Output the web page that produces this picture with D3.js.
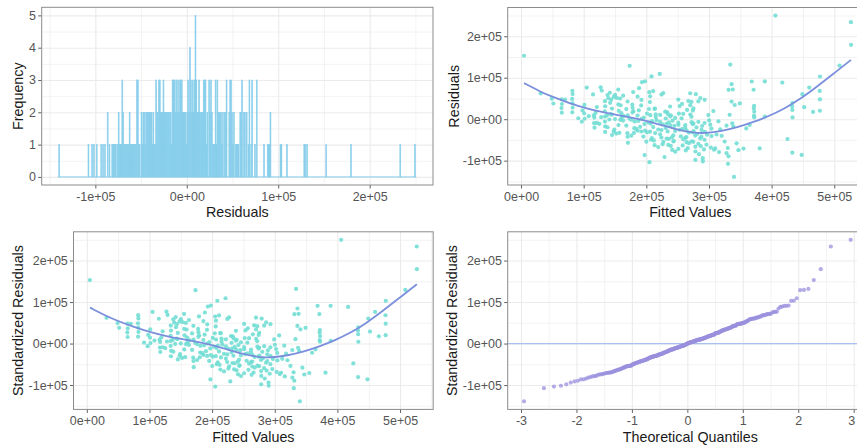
<!DOCTYPE html>
<html><head><meta charset="utf-8">
<script src="https://cdn.jsdelivr.net/npm/d3@7"></script>
<style>
body{margin:0;background:#fff}
svg{display:block}
text{font-family:"Liberation Sans",Arial,sans-serif}
</style>
</head><body>
<svg id="c" width="857" height="447"></svg>
<script>
// ---------- DATA ----------
const fitted = [
  4800, 31400, 49000, 51600, 64900, 65300, 64600, 65100, 70200, 81900,
  82300, 81600, 82000, 82400, 81800, 91400, 97000, 101200, 100800, 101500,
  104900, 117000, 116600, 117300, 116200, 127100, 128800, 134000, 134300, 133700,
  134100, 133900, 134400, 134200, 138000, 139400, 141800, 142300, 144000, 145200,
  144800, 145300, 150100, 152700, 155200, 158000, 159100, 158400, 155500, 152000,
  155300, 160200, 160500, 170100, 170400, 169800, 170200, 170600, 173400, 178100,
  177600, 179000, 179300, 181200, 180800, 180200, 188400, 193100, 192200, 191800,
  192400, 190100, 192000, 195300, 198000, 197200, 200100, 204800, 206100, 205700,
  204200, 206300, 207000, 205900, 207400, 208300, 205000, 213800, 215000, 216200,
  214100, 213200, 221400, 224200, 227000, 222000, 224300, 224000, 227200, 230100,
  231000, 232200, 234000, 232400, 235100, 234300, 238000, 239200, 238400, 241000,
  243200, 241300, 246100, 251000, 253200, 251300, 253000, 255100, 256200, 259000,
  262100, 264000, 262300, 264200, 266100, 267000, 270100, 270300, 272200, 272400,
  274000, 274300, 270000, 272100, 275200, 272000, 275100, 275400, 278000, 275000,
  278200, 278400, 279100, 283000, 286200, 293100, 278300, 290000, 290300, 283100,
  288200, 288000, 293000, 293400, 299000, 300200, 302100, 307000, 304200, 308100,
  310000, 315100, 318000, 320200, 325000, 328100, 330000, 331200, 330400, 334000,
  336200, 338000, 331300, 336100, 341000, 349200, 333000, 337200, 339000, 344100,
  347000, 340000, 355100, 359500, 365000, 368300, 371200, 372000, 371600, 372300,
  371800, 372200, 381000, 389100, 389300, 406000, 417100, 425400, 433000, 433200,
  432800, 433100, 433400, 448000, 449200, 452000, 460100, 466200, 477000, 477200,
  476800, 477100, 508400, 526600, 526800,
  // overlapping points inside the dense middle of the cloud
  212000, 244000, 268000, 283000, 226000, 296000, 258000, 239000, 287000, 219000,
  303000, 251000, 292000, 263000, 316000, 284000, 229000,
  186000, 246000, 201000, 268000, 157000, 281000, 222000, 297000, 243000, 176000,
  264000, 209000, 286000, 236000, 259000, 198000, 312000, 148000,
  141000, 163000, 187000, 209000, 236000, 251000, 121000, 197000, 274000, 226000,
  168000, 245000, 289000, 211000, 138000, 262000, 231000, 304000, 184000, 257000,
  219000, 149000, 280000, 203000, 242000, 125000, 293000, 176000, 328000,
  150000, 173000, 196000, 128000, 215000, 238000, 108000, 164000, 186000, 222000,
  143000, 201000, 252000, 119000, 178000, 233000, 156000, 98000, 188000, 265000,
  137000, 246000,
  168000, 213000, 121000, 257000, 148000, 163000, 186000, 115000, 211000
];
const residuals = [
  152900, 62100, 49300, 37800, 48000, 36600, 26700, 15800, 47500, 68400,
  60500, 48800, 38400, 27900, 16600, 2300, -6200, 34500, 14200, 1100,
  76300, 3900, -9600, -20400, 9400, 76900, 68900, 43400, 31200, 18700,
  6400, -5700, -17500, -30600, 58300, 50600, 63700, 39500, 47100, 25600,
  10800, -38200, 58900, 51400, 71300, 49700, 33600, -1600, -14100, -34700,
  35600, 14600, 3200, 42700, 9300, -33800, -42300, -56900, 128600, 27300,
  35200, 65400, 19100, -5400, -21600, -33200, 74800, 89200, 46400, 33100,
  600, -18300, -29700, -41800, 91400, -86500, -54300, 65200, 55100, 41200,
  24600, 9700, -10500, -30200, -49600, 103100, -103600, 25300, 11900, -2400,
  -33400, -62600, 109200, 59300, 63000, -6700, -26100, -44400, -54800, 18200,
  1700, -11300, -29400, -46800, -62100, 12600, 30600, 9000, -14800, -43600,
  -53700, -74200, -78300, 47400, 31700, -13600, -25400, -41500, 2000, 13000,
  -14400, -26800, -44900, -55500, -69800, 43800, 33900, 11200, -7100, -53200,
  -31500, 20800, 62500, 41800, 26000, 5600, -9900, -29000, -39400, -54600,
  -66300, -77900, 60200, 43100, 51000, 46600, -98300, -94000, -101700, -6400,
  -25900, -42100, -49800, -30300, 9900, -2900, -13200, 19600, -40600, -73600,
  -70400, -5200, -24300, -40200, -53900, -82000, -69400, -89600, -107600, 131600,
  84400, 71600, 70800, 42400, 34200, 37900, 10600, -10200, -17700, -58100,
  -74600, -139200, -70900, -22200, -14000, 90800, 71000, 32400, 26200, 18000,
  8200, 4600, -70200, 91000, 6300, 249800, 88200, -48000, -80700, 39000,
  31200, 22400, 4300, -86100, 60400, 28900, 76200, 17400, 20300, 102900,
  68200, 48000, 129300, 233800, 179200,
  -51200, -52600, -57800, -59400, -60300, -61500, -63200, -64400, -65100, -67200,
  -68400, -71600, -72800, -75400, -79200, -84300, -91200,
  -27400, -28300, -31600, -32300, -32900, -35600, -36400, -37300, -38900, -39800,
  -43300, -45300, -46200, -47400, -48600, -27800, -36900, -29600,
  -800, -3400, -4200, -4900, -7800, -8400, -8900, -11800, -12100, -12600,
  -15300, -15900, -16400, -18900, -19400, -20600, -21100, -22700, -23300, -23900,
  -24800, -25200, -19900, -7500, -3700, -11100, -9200, -1200, -15600,
  300, 1400, 3600, 4900, 5100, 6900, 7300, 7700, 8600, 10300,
  12100, 13600, 13300, 15200, 16300, 17200, 19900, 20900, 21400, 22300,
  8800, 3100,
  24300, 24900, 29400, 36800, 53600, 56700, 54200, 59700, 67800
];
// LOESS smoother
const smoothFitted = [4800, 31000, 50000, 75000, 102000, 129000, 155000, 179000, 198000, 224000, 251000, 275000, 294000, 320000, 347000, 371000, 395000, 420000, 445000, 472000, 499000, 526800];
const smoothResid  = [87000, 66000, 54000, 40000, 27000, 17000, 10000, 3000, -3000, -14000, -26000, -33000, -34000, -29000, -19000, -7000, 7000, 25000, 48000, 78000, 110000, 143000];

// ticks
const residTicks = [-100000, 0, 100000, 200000];
const residTickLabels = ["-1e+05", "0e+00", "1e+05", "2e+05"];
const freqTicks = [0, 1, 2, 3, 4, 5];
const fittedTicks = [0, 100000, 200000, 300000, 400000, 500000];
const fittedTickLabels = ["0e+00", "1e+05", "2e+05", "3e+05", "4e+05", "5e+05"];
const qTicks = [-3, -2, -1, 0, 1, 2, 3];

// ---------- helpers ----------
const svg = d3.select("#c");
const GRID = "#ebebeb", BORDER = "#8c8c8c", TICKTXT = "#555", TITLE = "#1a1a1a";

function expand(ext, f = 0.05) { const r = ext[1] - ext[0]; return [ext[0] - r * f, ext[1] + r * f]; }
function mids(t) { const m = []; for (let i = 0; i < t.length - 1; i++) m.push((t[i] + t[i + 1]) / 2); const s = t[1] - t[0]; m.unshift(t[0] - s / 2); m.push(t[t.length - 1] + s / 2); return m; }

function makePanel(o) {
  const g = svg.append("g");
  const x = d3.scaleLinear().domain(o.xDomain).range([o.x0, o.x1]);
  const y = d3.scaleLinear().domain(o.yDomain).range([o.y1, o.y0]);
  const inX = v => v >= o.xDomain[0] && v <= o.xDomain[1];
  const inY = v => v >= o.yDomain[0] && v <= o.yDomain[1];
  g.append("g").attr("transform", `translate(0,${o.y1})`)
    .call(d3.axisBottom(x).tickValues(mids(o.xTicks).filter(inX)).tickSize(-(o.y1 - o.y0)).tickFormat(""))
    .call(s => { s.select(".domain").remove(); s.selectAll("line").attr("stroke", GRID).attr("stroke-width", 0.6); });
  g.append("g").attr("transform", `translate(${o.x0},0)`)
    .call(d3.axisLeft(y).tickValues(mids(o.yTicks).filter(inY)).tickSize(-(o.x1 - o.x0)).tickFormat(""))
    .call(s => { s.select(".domain").remove(); s.selectAll("line").attr("stroke", GRID).attr("stroke-width", 0.6); });
  g.append("g").attr("transform", `translate(0,${o.y1})`)
    .call(d3.axisBottom(x).tickValues(o.xTicks).tickSize(-(o.y1 - o.y0)).tickFormat(""))
    .call(s => { s.select(".domain").remove(); s.selectAll("line").attr("stroke", GRID).attr("stroke-width", 1.1); });
  g.append("g").attr("transform", `translate(${o.x0},0)`)
    .call(d3.axisLeft(y).tickValues(o.yTicks).tickSize(-(o.x1 - o.x0)).tickFormat(""))
    .call(s => { s.select(".domain").remove(); s.selectAll("line").attr("stroke", GRID).attr("stroke-width", 1.1); });
  const plot = g.append("g");
  const xa = g.append("g").attr("transform", `translate(0,${o.y1})`)
    .call(d3.axisBottom(x).tickValues(o.xTicks).tickSize(3.5).tickPadding(3.2)
      .tickFormat((d, i) => o.xLabels ? o.xLabels[i] : d));
  const ya = g.append("g").attr("transform", `translate(${o.x0},0)`)
    .call(d3.axisLeft(y).tickValues(o.yTicks).tickSize(3.5).tickPadding(2.2)
      .tickFormat((d, i) => o.yLabels ? o.yLabels[i] : d));
  [xa, ya].forEach(a => {
    a.select(".domain").remove();
    a.selectAll("line").attr("stroke", "#4d4d4d").attr("stroke-width", 0.9);
    a.selectAll("text").attr("fill", TICKTXT).style("font-size", "12.5px").style("font-family", '"Liberation Sans",Arial,sans-serif');
  });
  g.append("rect").attr("x", o.x0).attr("y", o.y0).attr("width", o.x1 - o.x0).attr("height", o.y1 - o.y0)
    .attr("fill", "none").attr("stroke", BORDER).attr("stroke-width", 1);
  g.append("text").attr("x", (o.x0 + Math.min(o.x1, 857)) / 2 + (o.xTitleDx || 0)).attr("y", o.xTitleY)
    .attr("text-anchor", "middle").attr("fill", TITLE).style("font-size", "14.3px").text(o.xTitle);
  g.append("text").attr("transform", `translate(${o.yTitleX},${(o.y0 + o.y1) / 2}) rotate(-90)`)
    .attr("text-anchor", "middle").attr("fill", TITLE).style("font-size", "14.3px").text(o.yTitle);
  return { x, y, plot, xa };
}

// inverse normal CDF (Acklam) for theoretical quantiles of the QQ plot
function qnorm(p) {
  const a = [-3.969683028665376e+01, 2.209460984245205e+02, -2.759285104469687e+02, 1.383577518672690e+02, -3.066479806614716e+01, 2.506628277459239e+00];
  const b = [-5.447609879822406e+01, 1.615858368580409e+02, -1.556989798598866e+02, 6.680131188771972e+01, -1.328068155288572e+01];
  const c = [-7.784894002430293e-03, -3.223964580411365e-01, -2.400758277161838e+00, -2.549732539343734e+00, 4.374664141464968e+00, 2.938163982698783e+00];
  const d = [7.784695709041462e-03, 3.224671290700398e-01, 2.445134137142996e+00, 3.754408661907416e+00];
  const pl = 0.02425;
  let q, r;
  if (p < pl) { q = Math.sqrt(-2 * Math.log(p)); return (((((c[0]*q+c[1])*q+c[2])*q+c[3])*q+c[4])*q+c[5]) / ((((d[0]*q+d[1])*q+d[2])*q+d[3])*q+1); }
  if (p > 1 - pl) { q = Math.sqrt(-2 * Math.log(1 - p)); return -(((((c[0]*q+c[1])*q+c[2])*q+c[3])*q+c[4])*q+c[5]) / ((((d[0]*q+d[1])*q+d[2])*q+d[3])*q+1); }
  q = p - 0.5; r = q * q;
  return (((((a[0]*r+a[1])*r+a[2])*r+a[3])*r+a[4])*r+a[5])*q / (((((b[0]*r+b[1])*r+b[2])*r+b[3])*r+b[4])*r+1);
}

const pts = fitted.map((f, i) => ({ f, r: residuals[i] }));
const residDom = expand(d3.extent(residuals));
const fittedDom = expand(d3.extent(fitted));

// ---------- Panel 1: histogram ----------
{
  const P = makePanel({ x0: 41.7, x1: 433, y0: 7.3, y1: 185,
    xDomain: residDom, yDomain: [-0.25, 5.25],
    xTicks: residTicks, xLabels: residTickLabels, yTicks: freqTicks,
    xTitle: "Residuals", xTitleY: 217.3, yTitle: "Frequency", yTitleX: 22.9 });
  const bins = d3.bin().domain([-141000, 251000]).thresholds(d3.range(-141000, 251000, 1000))(residuals);
  const col = "#87ceeb";
  P.plot.append("line").attr("x1", P.x(bins[0].x0)).attr("x2", P.x(bins[bins.length - 1].x1))
    .attr("y1", P.y(0)).attr("y2", P.y(0)).attr("stroke", col).attr("stroke-width", 1);
  P.plot.selectAll("rect").data(bins.filter(b => b.length > 0)).join("rect")
    .attr("x", b => P.x(b.x0)).attr("width", b => Math.max(0.1, P.x(b.x1) - P.x(b.x0)))
    .attr("y", b => P.y(b.length)).attr("height", b => P.y(0) - P.y(b.length))
    .attr("fill", col).attr("stroke", col).attr("stroke-width", 0.6);
}

// ---------- Panels 2 & 3: residuals vs fitted ----------
function residPanel(o) {
  const P = makePanel(Object.assign({ xDomain: fittedDom, yDomain: residDom,
    xTicks: fittedTicks, xLabels: fittedTickLabels, yTicks: residTicks, yLabels: residTickLabels,
    xTitle: "Fitted Values" }, o));
  P.plot.selectAll("circle").data(pts).join("circle")
    .attr("cx", d => P.x(d.f)).attr("cy", d => P.y(d.r)).attr("r", 2.1)
    .attr("fill", "#72ded4").attr("fill-opacity", 0.9);
  P.plot.append("path").datum(smoothFitted.map((f, i) => [f, smoothResid[i]]))
    .attr("d", d3.line().x(d => P.x(d[0])).y(d => P.y(d[1])).curve(d3.curveBasis))
    .attr("fill", "none").attr("stroke", "#7b8fdc").attr("stroke-width", 1.8);
}
residPanel({ x0: 507.7, x1: 867.4, y0: 7.5, y1: 185, xTitleY: 217.3, yTitle: "Residuals", yTitleX: 459, xTitleDx: 8 });
residPanel({ x0: 73.5, x1: 433.2, y0: 231.8, y1: 409.4, xTitleY: 441.7, yTitle: "Standardized Residuals", yTitleX: 22.9 });

// ---------- Panel 4: QQ ----------
{
  const sorted = residuals.slice().sort(d3.ascending);
  const n = sorted.length;
  const qq = sorted.map((v, i) => ({ t: qnorm((i + 0.5) / n), v }));
  const tDom = expand(d3.extent(qq, d => d.t));
  const P = makePanel({ x0: 507.7, x1: 867, y0: 231.8, y1: 409.4,
    xDomain: tDom, yDomain: residDom, xTicks: qTicks, yTicks: residTicks, yLabels: residTickLabels,
    xTitle: "Theoretical Quantiles", xTitleY: 441.7, yTitle: "Standardized Residuals", yTitleX: 457, xTitleDx: 8 });
  P.xa.selectAll(".tick").filter(d => d === 3).select("text").attr("dx", -2.5);
  P.plot.append("line").attr("x1", 507.7).attr("x2", 867).attr("y1", P.y(0)).attr("y2", P.y(0))
    .attr("stroke", "#a9c1ee").attr("stroke-width", 1.2);
  P.plot.selectAll("circle").data(qq).join("circle")
    .attr("cx", d => P.x(d.t)).attr("cy", d => P.y(d.v)).attr("r", 2.1)
    .attr("fill", "#9a90de").attr("fill-opacity", 0.75);
}
</script>
</body></html>
